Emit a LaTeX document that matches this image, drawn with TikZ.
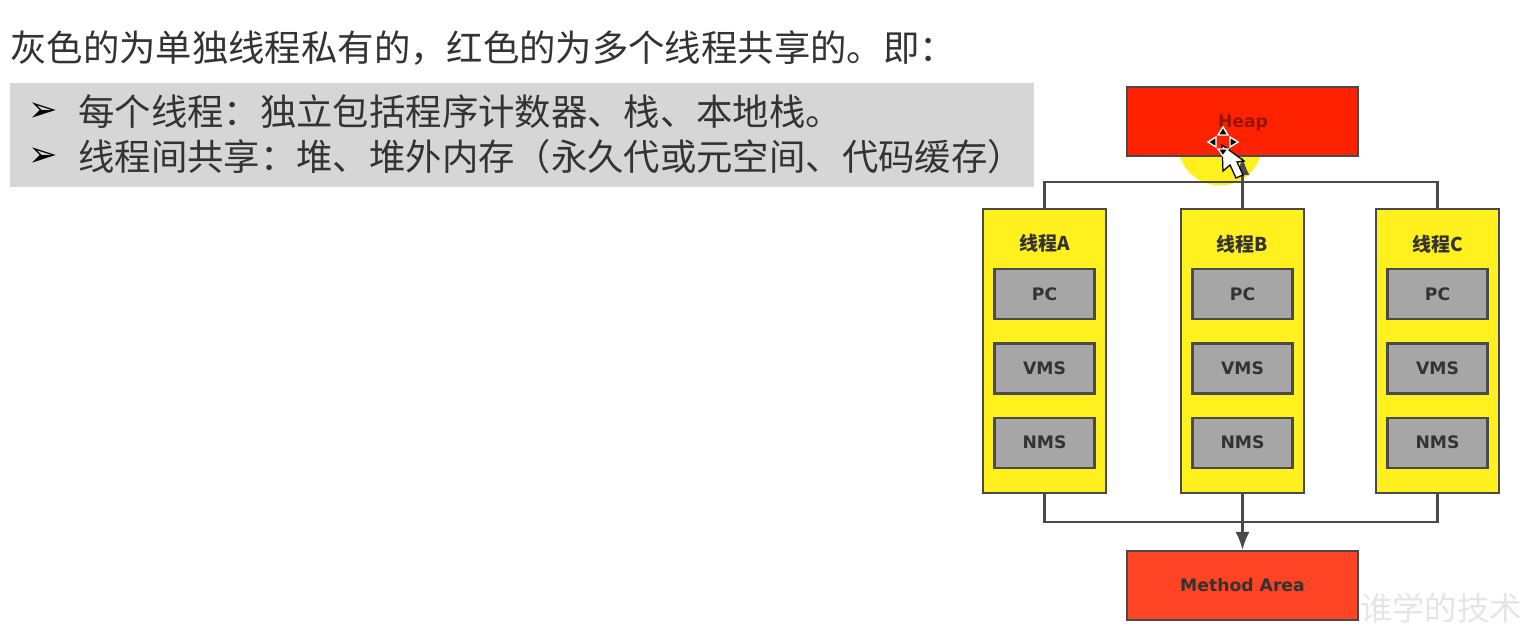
\documentclass[tikz,border=0pt]{standalone}
\usepackage{fontspec}
\setmainfont{Noto Sans CJK SC}
\newfontfamily\labelfont{DejaVu Sans}
\usepackage{tikz}
\usetikzlibrary{positioning, arrows.meta}

\definecolor{linegray}{HTML}{4A4A4A}
\definecolor{textgray}{HTML}{333333}
\definecolor{bargray}{HTML}{D6D6D6}
\definecolor{regbox}{HTML}{A6A6A6}
\definecolor{threadyellow}{HTML}{FFF01E}
\definecolor{heapred}{HTML}{FF2200}
\definecolor{methodred}{HTML}{FF4426}

\begin{document}
\begin{tikzpicture}[
            x=0.02cm, y=-0.02cm,
            node distance=0.44cm,
            sharedbox/.style={draw=linegray, line width=1.2pt, fill=heapred, minimum width=4.62cm, minimum height=1.38cm, inner sep=0pt, font=\labelfont\bfseries\fontsize{9.8}{11}\selectfont, text=textgray},
            threadbox/.style={draw=linegray, line width=1.2pt, fill=threadyellow, minimum width=2.46cm, minimum height=5.68cm, inner sep=0pt},
            regnode/.style={draw=linegray, line width=1.2pt, fill=regbox, minimum width=2cm, minimum height=1cm, inner sep=0pt, font=\labelfont\bfseries\fontsize{9.8}{11}\selectfont, text=textgray},
            threadname/.style={inner sep=0pt, font=\fontsize{10.8}{12}\selectfont\bfseries, text=textgray},
            bulletline/.style={anchor=west, inner sep=0pt, font=\fontsize{20.7}{24}\selectfont, text=textgray},
            bulletmark/.style={anchor=west, inner sep=0pt, text=black, font=\labelfont\bfseries\fontsize{20}{24}\selectfont},
            busline/.style={draw=linegray, line width=1.2pt},
            arrowline/.style={busline, -{Latex[length=0.36cm, width=0.28cm]}},
            moveicon/.style={fill=black, draw=white, line width=0.8pt}
            ]

    \useasboundingbox (0,0) rectangle (1524,638);

    % Text on the left
    \node[bulletline] (intro) at (10,48) {灰色的为单独线程私有的，红色的为多个线程共享的。即：};
    \fill[bargray] (10,83) rectangle (1034,187);
    \node[bulletmark] (markA) at (28,112) {➢};
    \node[bulletline] (lineA) at (78,112) {每个线程：独立包括程序计数器、栈、本地栈。};
    \node[bulletmark] (markB) at (28,157) {➢};
    \node[bulletline] (lineB) at (78,157) {线程间共享：堆、堆外内存（永久代或元空间、代码缓存）};

    % Highlight of the mouse, behind the heap box
    \fill[threadyellow] (1220,143) circle (0.85cm);

    % Shared areas
    \node[sharedbox] (heap) at (1242.5,121.5) {};
    \node[text=heapred!60!black, inner sep=0pt, font=\labelfont\bfseries\fontsize{9.8}{11}\selectfont] (heapname) at (1243,123) {Heap};
    \node[sharedbox, fill=methodred] (method) at (1242.5,585.5) {Method Area};

    % Threads with their registers
    \node[threadbox] (threadA) at (1044.5,351) {};
    \node[threadname] (nameA) at (1044.5,243) {线程A};
    \node[regnode] (vmsA) at (1044.5,368.5) {VMS};
    \node[regnode, above=of vmsA] (pcA) {PC};
    \node[regnode, below=of vmsA] (nmsA) {NMS};

    \node[threadbox] (threadB) at (1242.5,351) {};
    \node[threadname] (nameB) at (1242.5,244) {线程B};
    \node[regnode] (vmsB) at (1242.5,368.5) {VMS};
    \node[regnode, above=of vmsB] (pcB) {PC};
    \node[regnode, below=of vmsB] (nmsB) {NMS};

    \node[threadbox] (threadC) at (1437.5,351) {};
    \node[threadname] (nameC) at (1437.5,244) {线程C};
    \node[regnode] (vmsC) at (1437.5,368.5) {VMS};
    \node[regnode, above=of vmsC] (pcC) {PC};
    \node[regnode, below=of vmsC] (nmsC) {NMS};

    % Connectors
    \coordinate (busTop) at (1242.5,182);
    \coordinate (busBottom) at (1242.5,522);
    \draw[busline] (threadA.north) |- (busTop);
    \draw[busline] (threadC.north) |- (busTop);
    \draw[arrowline] (threadB.north) -- (heap.south);
    \draw[busline] (threadA.south) |- (busBottom);
    \draw[busline] (threadC.south) |- (busBottom);
    \draw[arrowline] (threadB.south) -- (method.north);

    % Mouse pointer
    \draw[black, fill=white, line width=0.7pt] (1222,145) -- (1223,171) -- (1230,165) -- (1236,178) -- (1243,175) -- (1237,162) -- (1244,161) -- cycle;
    \draw[moveicon] (1223,127) -- (1218,135) -- (1228,135) -- cycle;
    \draw[moveicon] (1223,156) -- (1218,149) -- (1228,149) -- cycle;
    \draw[moveicon] (1208,142) -- (1216,137) -- (1216,147) -- cycle;
    \draw[moveicon] (1238,142) -- (1230,137) -- (1230,147) -- cycle;

    % Watermark
    \node[anchor=east, inner sep=0pt, text=black!10, font=\fontsize{18.4}{22}\selectfont] (mark) at (1522,608) {谁学的技术};

\end{tikzpicture}
\end{document}
